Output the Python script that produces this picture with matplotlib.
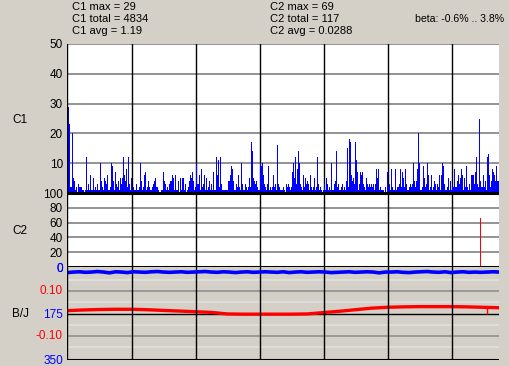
import numpy as np
import matplotlib
matplotlib.use("Agg")
import matplotlib.pyplot as plt

plt.rcParams['font.family'] = ['Liberation Sans', 'DejaVu Sans']
plt.rcParams['font.size'] = 8

#--- data ------------------------------------------------------------
c1_values = [
    29, 23, 2, 2, 20, 5, 4, 1, 2, 0, 3, 2, 2, 2, 1, 1, 0, 1, 12, 1, 3, 1, 6, 1, 1, 5, 1, 2, 1, 3,
    1, 1, 10, 4, 2, 1, 5, 4, 3, 6, 1, 1, 2, 10, 9, 4, 1, 7, 3, 2, 4, 1, 5, 3, 5, 12, 6, 4, 8, 2,
    12, 3, 1, 5, 1, 2, 1, 1, 3, 1, 1, 2,
    10, 4, 1, 2, 6, 7, 1, 2, 4, 2, 1, 1, 2, 3, 4, 5, 2, 2, 1, 0, 0, 1, 1, 7, 4, 3, 1, 2, 1, 3,
    4, 4, 6, 5, 1, 6, 1, 1, 4, 0, 5, 1, 5, 5, 1, 3, 0, 1, 2, 4, 6, 5, 7, 4, 1, 2, 10, 3, 3, 6,
    1, 8, 2, 3, 6, 1, 5, 1, 2, 4, 1,
    3, 1, 7, 1, 1, 12, 6, 11, 2, 12, 3, 1, 1, 1, 1, 1, 1, 4, 4, 6, 9, 8, 4, 1, 1, 3, 2, 6, 2, 1,
    10, 3, 1, 1, 3, 2, 1, 2, 5, 2, 17, 14, 5, 4, 3, 4, 2, 1, 1, 10, 9, 10, 6, 3, 2, 1, 3, 9, 1, 2,
    1, 2, 6, 2, 3, 1, 16, 3, 2, 1, 1, 1,
    2, 1, 0, 3, 2, 3, 2, 1, 2, 7, 10, 5, 12, 3, 8, 14, 10, 3, 2, 1, 6, 2, 5, 3, 4, 3, 1, 6, 2, 1,
    2, 5, 1, 2, 12, 3, 1, 2, 1, 0, 1, 3, 1, 5, 3, 1, 2, 1, 10, 1, 1, 3, 4, 14, 2, 3, 1, 1, 2, 3,
    1, 2, 1, 4, 15, 2, 18, 17, 6, 4, 5, 3,
    17, 11, 7, 1, 3, 7, 6, 7, 3, 2, 1, 5, 3, 2, 3, 2, 3, 2, 3, 1, 3, 8, 5, 8, 1, 2, 1, 1, 1, 0,
    2, 0, 7, 2, 3, 1, 8, 2, 1, 1, 8, 1, 2, 2, 3, 8, 2, 7, 5, 2, 8, 3, 1, 1, 2, 3, 2, 3, 10, 4,
    2, 4, 8, 20, 10, 1, 1, 2, 9, 5, 2, 3,
    10, 6, 1, 2, 6, 1, 2, 4, 3, 1, 3, 2, 6, 1, 6, 10, 9, 3, 1, 1, 2, 5, 1, 4, 1, 2, 2, 8, 2, 2,
    4, 6, 3, 5, 8, 6, 1, 5, 2, 9, 2, 1, 3, 1, 6, 6, 6, 3, 7, 12, 3, 2, 25, 4, 2, 2, 6, 2, 4, 1,
    12, 13, 6, 2, 4, 8, 7, 6, 4, 9, 4, 4, 4,
]
c2_index = [412]
c2_values = [66]

# B/J panel: blue trace (scale 0..350, inverted) and red trace (-0.21..0.21)
blue_x = np.arange(0, 433, 6)
blue_values = [21, 19, 18, 20, 19, 17, 19, 22, 18, 19, 21, 18, 19, 20, 18, 17, 19, 20, 19, 18,
               20, 19, 18, 17, 19, 20, 18, 19, 21, 19, 18, 20, 19, 18, 19, 20, 18, 21, 19, 18,
               20, 19, 18, 19, 21, 20, 19, 18, 20, 19, 18, 19, 22, 19, 19, 18, 20, 21, 19, 18,
               17, 19, 20, 18, 21, 19, 18, 20, 19, 20, 19, 18, 19]
red_x = np.arange(0, 433, 16)
red_values = [0.013, 0.016, 0.018, 0.019, 0.019, 0.017, 0.014, 0.011, 0.008, 0.005,
              -0.002, -0.003, -0.003, -0.003, -0.003, -0.002, 0.004, 0.010, 0.017, 0.024,
              0.028, 0.030, 0.031, 0.031, 0.031, 0.030, 0.028, 0.026]
red_dip_x = [420]
red_dip_low = [0.0]

header_c1 = ["C1 max = 29", "C1 total = 4834", "C1 avg = 1.19"]
header_c2 = ["C2 max = 69", "C2 total = 117", "C2 avg = 0.0288"]
beta_text = "beta: -0.6% .. 3.8%"

#--- layout (pixel based) --------------------------------------------
W, H = 509, 366
bg = "#d4d0c8"
fig = plt.figure(figsize=(W/100, H/100), dpi=100, facecolor=bg)

def box(x0, y0, x1, y1):
    return [x0/W, 1 - y1/H, (x1 - x0)/W, (y1 - y0)/H]

x0, x1 = 67, 499
ax1 = fig.add_axes(box(x0, 44, x1, 193))
ax2 = fig.add_axes(box(x0, 193, x1, 267))
ax3 = fig.add_axes(box(x0, 267, x1, 360))
ax3r = ax3.twinx()

nx = len(c1_values)
vgrid = np.arange(64, nx, 64)

for a in (ax1, ax2, ax3, ax3r):
    a.set_xlim(-0.5, nx)
    for s in a.spines.values():
        s.set_visible(False)
    a.tick_params(length=0, labelsize=8.5, pad=3)
    a.set_xticks([])
ax3r.set_yticks([])

# C1
ax1.set_ylim(0, 50)
for v in [10, 20, 30, 40, 50]:
    ax1.axhline(v, color="#808080", lw=1.2, zorder=1)
ax1.bar(np.arange(nx) + 0.5, c1_values, width=1.0, align="edge", color="#0000ff",
        lw=0, antialiased=False, zorder=2)
ax1.set_yticks([10, 20, 30, 40, 50])

# C2
ax2.set_ylim(0, 100)
for v in [20, 40, 60, 80]:
    ax2.axhline(v, color="#808080", lw=1.2, zorder=1)
ax2.bar(np.array(c2_index) + 0.5, c2_values, width=1.0, align="edge", color="#ff0000",
        lw=0, antialiased=False, zorder=2)
ax2.set_yticks([0, 20, 40, 60, 80, 100])
ax2.get_yticklabels()[0].set_color("#0000ff")
ax2.axhline(100, color="black", lw=2.2, zorder=3)
ax2.axhline(0, color="black", lw=2.2, zorder=3)

# B/J
ax3.set_ylim(350, 0)
ax3r.set_ylim(-0.21, 0.21)
for v in [0.15, 0.05, -0.05, -0.15]:
    ax3r.axhline(v, color="#e0e0e0", lw=1.2, zorder=1)
for v in [0.10, -0.10]:
    ax3r.axhline(v, color="#909090", lw=1.2, zorder=1)
ax3r.axhline(0, color="black", lw=1.0, zorder=1)
ax3r.plot(red_x, red_values, color="#ff0000", lw=2.4, solid_capstyle="butt", zorder=3)
ax3r.vlines(red_dip_x, red_dip_low, 0.026, color="#ff0000", lw=1.0, zorder=3)
ax3.plot(blue_x, blue_values, color="#0000ff", lw=2.6, solid_capstyle="butt", zorder=3)
ax3.axhline(350, color="black", lw=1.5, zorder=4)
ax3.set_yticks([0, 175, 350])
for t in ax3.get_yticklabels():
    t.set_color("#0000ff")
# red labels at +-0.10 drawn on the left side
for v, lab in [(0.10, "0.10"), (-0.10, "-0.10")]:
    ax3r.annotate(lab, xy=(0, v), xycoords=("axes fraction", "data"),
                  xytext=(-3, 0), textcoords="offset points",
                  ha="right", va="center", color="#ff0000", fontsize=8.5)
ax3.set_zorder(ax3r.get_zorder() + 1)
ax3.patch.set_visible(False)

for a in (ax1, ax2, ax3):
    for v in vgrid:
        a.axvline(v + 0.5, color="black", lw=1.0, zorder=1.5)
    a.axvline(-0.5, color="black", lw=1.0, zorder=4)
ax1.axhline(0, color="black", lw=2.2, zorder=3)

# panel names
for name, ypix in [("C1", 120), ("C2", 231), ("B/J", 314)]:
    fig.text(12/W, 1 - ypix/H, name, ha="left", va="center", fontsize=8.5)

# header text
for i, s in enumerate(header_c1):
    fig.text(72/W, 1 - (7 + 12*i)/H, s, ha="left", va="center", fontsize=8)
for i, s in enumerate(header_c2):
    fig.text(270/W, 1 - (7 + 12*i)/H, s, ha="left", va="center", fontsize=8)
fig.text(504/W, 1 - 19/H, beta_text, ha="right", va="center", fontsize=7.6)

fig.savefig("out.png", dpi=100, facecolor=bg)
